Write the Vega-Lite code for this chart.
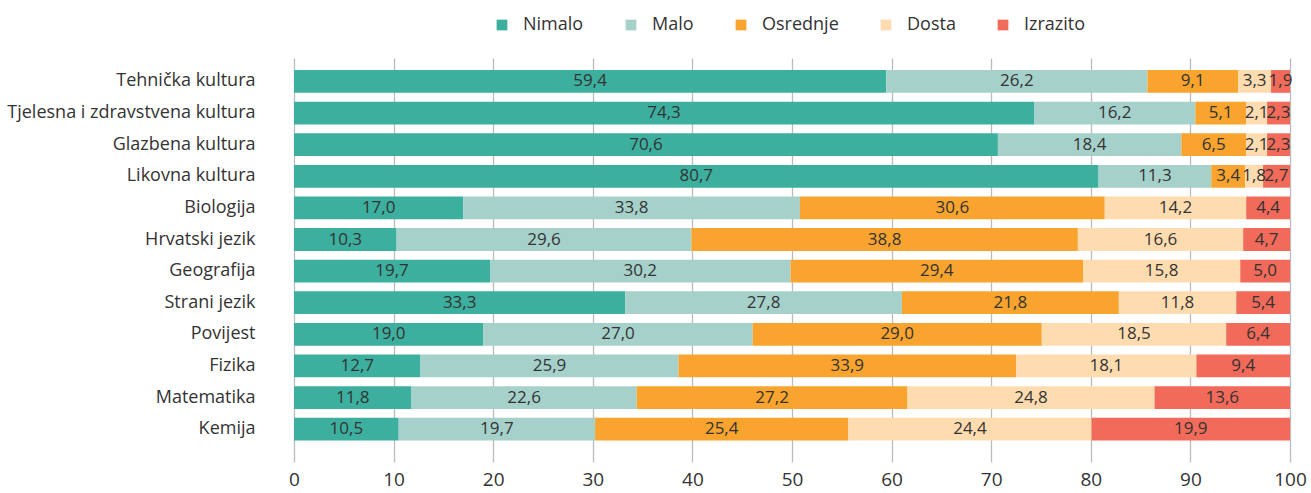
{
  "$schema": "https://vega.github.io/schema/vega-lite/v6.json",
  "autosize": {"type": "none"},
  "width": 996,
  "height": 404,
  "padding": {"left": 294, "top": 58, "right": 21, "bottom": 31},
  "background": "white",
  "config": {
    "view": {"stroke": null},
    "font": "Open Sans",
    "locale": {
      "number": {"decimal": ",", "thousands": ".", "grouping": [3], "currency": ["", " €"]}
    }
  },
  "data": {
    "values": [
      {"predmet": "Tehnička kultura", "Nimalo": 59.4, "Malo": 26.2, "Osrednje": 9.1, "Dosta": 3.3, "Izrazito": 1.9},
      {"predmet": "Tjelesna i zdravstvena kultura", "Nimalo": 74.3, "Malo": 16.2, "Osrednje": 5.1, "Dosta": 2.1, "Izrazito": 2.3},
      {"predmet": "Glazbena kultura", "Nimalo": 70.6, "Malo": 18.4, "Osrednje": 6.5, "Dosta": 2.1, "Izrazito": 2.3},
      {"predmet": "Likovna kultura", "Nimalo": 80.7, "Malo": 11.3, "Osrednje": 3.4, "Dosta": 1.8, "Izrazito": 2.7},
      {"predmet": "Biologija", "Nimalo": 17.0, "Malo": 33.8, "Osrednje": 30.6, "Dosta": 14.2, "Izrazito": 4.4},
      {"predmet": "Hrvatski jezik", "Nimalo": 10.3, "Malo": 29.6, "Osrednje": 38.8, "Dosta": 16.6, "Izrazito": 4.7},
      {"predmet": "Geografija", "Nimalo": 19.7, "Malo": 30.2, "Osrednje": 29.4, "Dosta": 15.8, "Izrazito": 5.0},
      {"predmet": "Strani jezik", "Nimalo": 33.3, "Malo": 27.8, "Osrednje": 21.8, "Dosta": 11.8, "Izrazito": 5.4},
      {"predmet": "Povijest", "Nimalo": 19.0, "Malo": 27.0, "Osrednje": 29.0, "Dosta": 18.5, "Izrazito": 6.4},
      {"predmet": "Fizika", "Nimalo": 12.7, "Malo": 25.9, "Osrednje": 33.9, "Dosta": 18.1, "Izrazito": 9.4},
      {"predmet": "Matematika", "Nimalo": 11.8, "Malo": 22.6, "Osrednje": 27.2, "Dosta": 24.8, "Izrazito": 13.6},
      {"predmet": "Kemija", "Nimalo": 10.5, "Malo": 19.7, "Osrednje": 25.4, "Dosta": 24.4, "Izrazito": 19.9}
    ]
  },
  "transform": [
    {"fold": ["Nimalo", "Malo", "Osrednje", "Dosta", "Izrazito"], "as": ["odgovor", "postotak"]},
    {"calculate": "indexof(['Nimalo', 'Malo', 'Osrednje', 'Dosta', 'Izrazito'], datum.odgovor)", "as": "redoslijed"},
    {"stack": "postotak", "groupby": ["predmet"], "sort": [{"field": "redoslijed", "order": "ascending"}], "offset": "normalize", "as": ["x0", "x1"]},
    {"calculate": "(datum.x0 + datum.x1) / 2", "as": "xsred"}
  ],
  "encoding": {
    "y": {
      "field": "predmet",
      "type": "nominal",
      "sort": null,
      "scale": {"paddingInner": 0.28, "paddingOuter": 0.53, "align": 0.36},
      "axis": {
        "title": null,
        "ticks": false,
        "domain": false,
        "labelPadding": 39,
        "labelFontSize": 18,
        "labelColor": "#333333",
        "labelLimit": 400
      }
    }
  },
  "layer": [
    {
      "mark": {"type": "bar"},
      "encoding": {
        "x": {
          "field": "x0",
          "type": "quantitative",
          "scale": {"domain": [0, 1], "nice": false},
          "axis": {
            "title": null,
            "values": [0, 0.1, 0.2, 0.3, 0.4, 0.5, 0.6, 0.7, 0.8, 0.9, 1],
            "labelExpr": "format(datum.value * 100, 'd')",
            "domain": false,
            "ticks": false,
            "grid": true,
            "gridColor": "#bbbbbb",
            "gridWidth": 1.3,
            "labelFontSize": 19,
            "labelColor": "#333333",
            "labelPadding": 8,
            "labelFlush": false
          }
        },
        "x2": {"field": "x1"},
        "color": {
          "field": "odgovor",
          "type": "nominal",
          "scale": {
            "domain": ["Nimalo", "Malo", "Osrednje", "Dosta", "Izrazito"],
            "range": ["#3daf9f", "#a6d1cb", "#f8a42f", "#fedcb0", "#f26a5a"]
          },
          "legend": {
            "title": null,
            "orient": "none",
            "direction": "horizontal",
            "legendX": 199,
            "legendY": -42,
            "symbolType": "square",
            "symbolSize": 115,
            "symbolStrokeWidth": 0,
            "symbolOpacity": 1,
            "labelFontSize": 18,
            "labelColor": "#333333",
            "labelOffset": 12,
            "columnPadding": 38
          }
        }
      }
    },
    {
      "mark": {"type": "text", "fontSize": 17, "color": "#333333"},
      "encoding": {
        "x": {"field": "xsred", "type": "quantitative"},
        "text": {"field": "postotak", "type": "quantitative", "format": ".1f"}
      }
    }
  ]
}
